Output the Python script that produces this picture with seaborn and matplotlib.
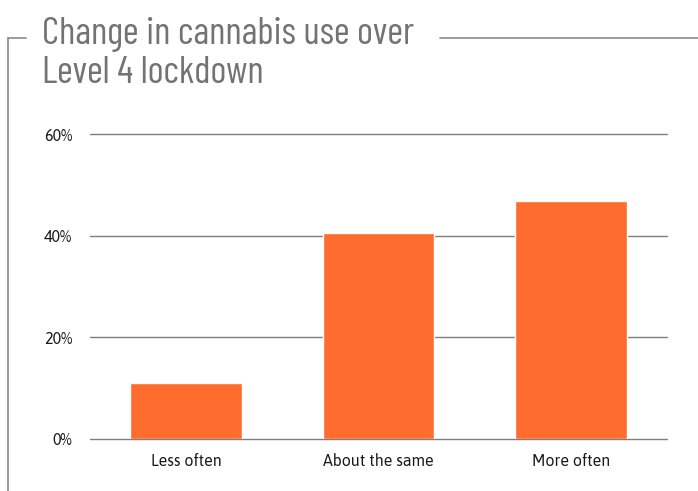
import matplotlib.pyplot as plt
import seaborn as sns
import pandas as pd
from matplotlib.lines import Line2D

categories = ["Less often", "About the same", "More often"]
shares = [11.0, 40.5, 46.8]
yticks = [0, 20, 40, 60]
ytick_labels = ["0%", "20%", "40%", "60%"]
title_lines = ["Change in cannabis use over", "Level 4 lockdown"]


def main():
    sns.set_style("white")
    plt.rcParams["font.family"] = ["Asap", "Archivo Narrow", "DejaVu Sans"]

    df = pd.DataFrame({"cat": categories, "share": shares})

    fig = plt.figure(figsize=(6.98, 4.91), dpi=100)
    ax = fig.add_axes([0.129, 0.106, 0.827, 0.621])

    sns.barplot(df, x="cat", y="share", color="#ff6d2e", saturation=1,
                width=0.58, ax=ax, zorder=3)

    ax.set_ylim(0, 60)
    ax.set_xlim(-0.5, 2.5)
    ax.set_yticks(yticks)
    ax.set_yticklabels(ytick_labels)
    ax.yaxis.grid(True, color="#7f7f7f", linewidth=1.0, zorder=0)
    for gl in ax.get_ygridlines():
        gl.set_clip_on(False)
    ax.xaxis.grid(False)
    for s in ax.spines.values():
        s.set_visible(False)
    ax.tick_params(axis="both", length=0, labelsize=11.5, colors="#1a1a1a")
    ax.tick_params(axis="y", pad=13)
    ax.tick_params(axis="x", pad=10)
    ax.set_xlabel("")
    ax.set_ylabel("")

    # frame around the title
    gc = "#8a8a8a"
    fig.add_artist(Line2D([8 / 698, 8 / 698], [0, 1 - 38 / 491], color=gc, lw=1.2))
    fig.add_artist(Line2D([8 / 698, 26 / 698], [1 - 38 / 491, 1 - 38 / 491], color=gc, lw=1.2))
    fig.add_artist(Line2D([440 / 698, 1], [1 - 38 / 491, 1 - 38 / 491], color=gc, lw=1.2))

    for line, base in zip(title_lines, [44, 83]):
        fig.text(42 / 698, 1 - base / 491, line, fontsize=27.5, color="#737373",
                 family=["Barlow Condensed", "DejaVu Sans"],
                 va="baseline", ha="left")

    fig.savefig("out.png", dpi=100)


if __name__ == "__main__":
    main()
